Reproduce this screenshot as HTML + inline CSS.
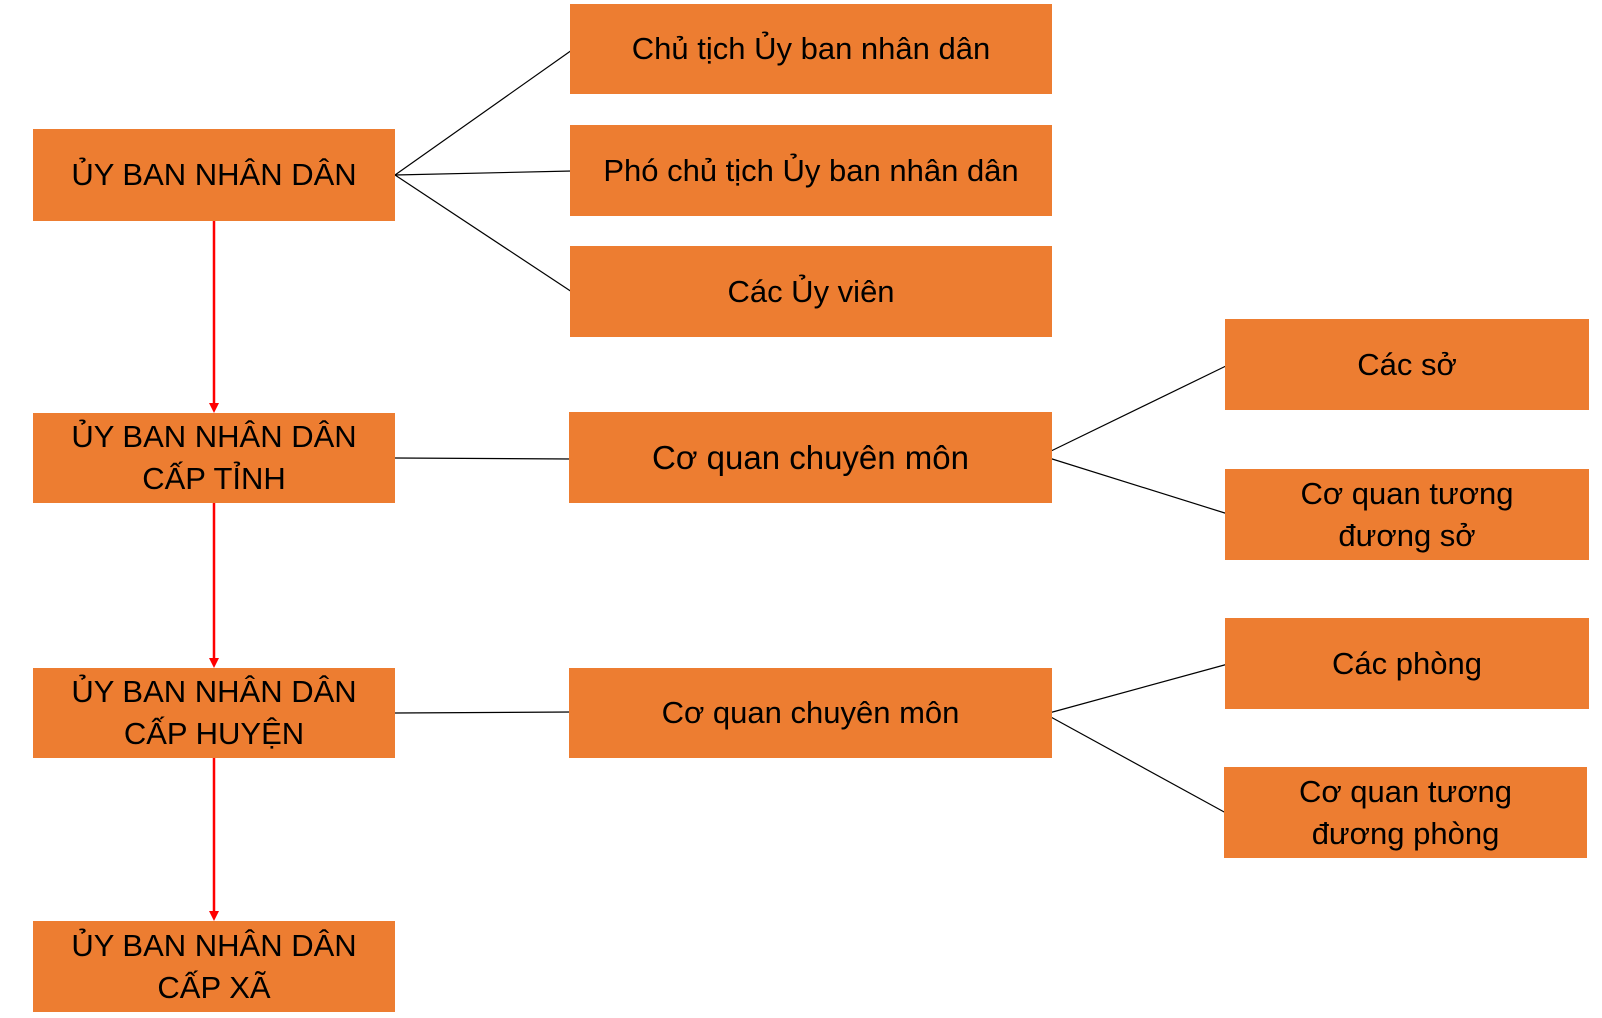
<!DOCTYPE html>
<html><head><meta charset="utf-8"><style>
body{margin:0;width:1602px;height:1018px;background:#fff;position:relative;overflow:hidden;font-family:"Liberation Sans","DejaVu Sans",sans-serif}
.b{position:absolute;background:#ED7D31;display:flex;align-items:center;justify-content:center;text-align:center;color:#000;font-size:31px;line-height:42px;white-space:nowrap}
svg{position:absolute;left:0;top:0}
</style></head><body>
<svg width="1602" height="1018">
<g stroke="#000" stroke-width="1.2" fill="none">
<line x1="395" y1="175" x2="572" y2="50"/>
<line x1="395" y1="175" x2="572" y2="171"/>
<line x1="395" y1="175" x2="572" y2="292"/>
<line x1="395" y1="458" x2="572" y2="459"/>
<line x1="395" y1="713" x2="572" y2="712"/>
<line x1="1049" y1="452" x2="1228" y2="365"/>
<line x1="1049" y1="458" x2="1228" y2="514"/>
<line x1="1049" y1="713" x2="1228" y2="664"/>
<line x1="1049" y1="716" x2="1226" y2="813"/>
</g>
<g stroke="#f00" stroke-width="2.5" fill="#f00">
<line x1="214" y1="219" x2="214" y2="404"/>
<polygon points="209,403 219,403 214,413" stroke="none"/>
<line x1="214" y1="503" x2="214" y2="659"/>
<polygon points="209,658 219,658 214,668" stroke="none"/>
<line x1="214" y1="758" x2="214" y2="912"/>
<polygon points="209,911 219,911 214,921" stroke="none"/>
</g>
</svg>
<div class="b" style="left:33px;top:129px;width:362px;height:92px">ỦY BAN NHÂN DÂN</div>
<div class="b" style="left:33px;top:413px;width:362px;height:90px">ỦY BAN NHÂN DÂN<br>CẤP TỈNH</div>
<div class="b" style="left:33px;top:668px;width:362px;height:90px">ỦY BAN NHÂN DÂN<br>CẤP HUYỆN</div>
<div class="b" style="left:33px;top:921px;width:362px;height:91px">ỦY BAN NHÂN DÂN<br>CẤP XÃ</div>
<div class="b" style="left:570px;top:4px;width:482px;height:90px">Chủ tịch Ủy ban nhân dân</div>
<div class="b" style="left:570px;top:125px;width:482px;height:91px">Phó chủ tịch Ủy ban nhân dân</div>
<div class="b" style="left:570px;top:246px;width:482px;height:91px">Các Ủy viên</div>
<div class="b" style="left:569px;top:412px;width:483px;height:91px;font-size:33px">Cơ quan chuyên môn</div>
<div class="b" style="left:569px;top:668px;width:483px;height:90px">Cơ quan chuyên môn</div>
<div class="b" style="left:1225px;top:319px;width:364px;height:91px">Các sở</div>
<div class="b" style="left:1225px;top:469px;width:364px;height:91px">Cơ quan tương<br>đương sở</div>
<div class="b" style="left:1225px;top:618px;width:364px;height:91px">Các phòng</div>
<div class="b" style="left:1224px;top:767px;width:363px;height:91px">Cơ quan tương<br>đương phòng</div>
</body></html>
